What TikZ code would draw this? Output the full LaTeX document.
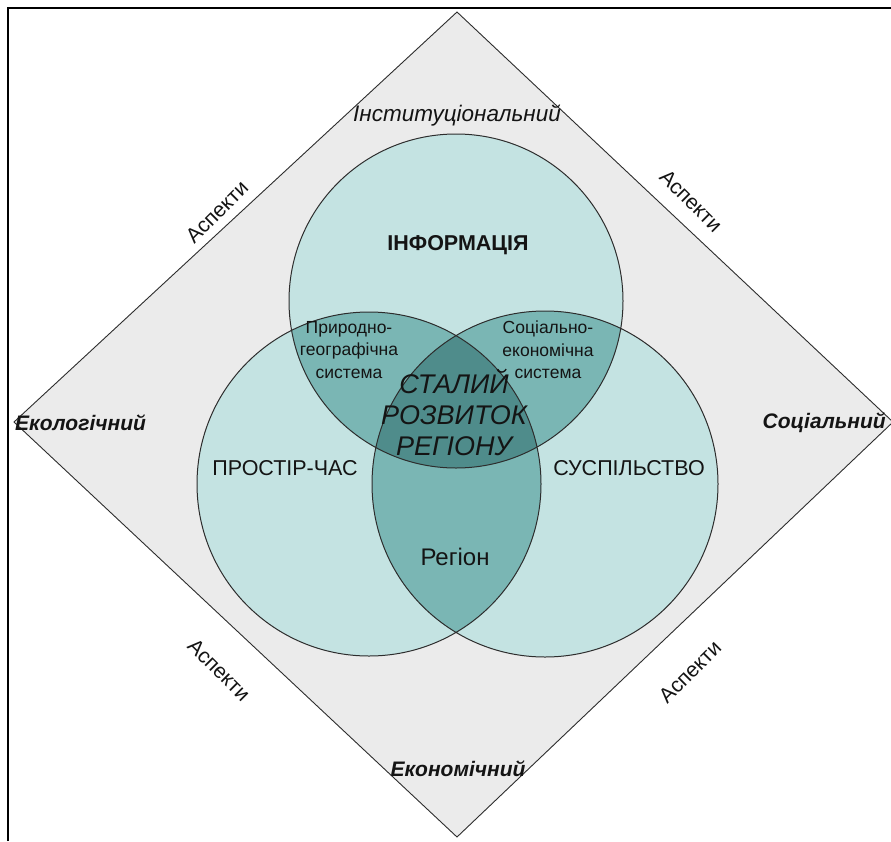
\documentclass[tikz,border=0pt]{standalone}
\usepackage{fontspec}
\setmainfont{Liberation Sans}
\definecolor{diamondfill}{RGB}{235,235,235}
\definecolor{cone}{RGB}{196,227,226}
\definecolor{ctwo}{RGB}{122,182,180}
\definecolor{cthree}{RGB}{79,140,139}
\definecolor{edgecol}{RGB}{45,45,45}
\definecolor{txt}{RGB}{20,20,20}
\begin{document}
\begin{tikzpicture}[x=1pt,y=-1pt,
  lab/.style={text=txt,inner sep=0pt,align=center},
  aspect/.style={lab,font=\fontsize{21}{21}\selectfont},
  side/.style={lab,font=\fontsize{21}{21}\selectfont\bfseries\itshape},
  inner/.style={lab,font=\fontsize{17.5}{22.5}\selectfont},
  big/.style={lab,font=\fontsize{21.5}{21.5}\selectfont}]
\useasboundingbox (0,0) rectangle (891,841);
\fill[white] (0,0) rectangle (891,841);
% frame
\draw[line width=2pt,black] (8,841) -- (8,8) -- (891,8);
% diamond
\coordinate (dt) at (457,12);
\coordinate (dl) at (14,422);
\coordinate (dr) at (893,422);
\coordinate (db) at (457,837);
\draw[fill=diamondfill,draw=edgecol,line width=0.9pt] (dt) -- (dr) -- (db) -- (dl) -- cycle;
% circle centres
\coordinate (ct) at (456,301);
\coordinate (cl) at (369,484);
\coordinate (cr) at (545,484);
\def\rt{167}\def\rl{172}\def\rr{173}
\fill[cone] (ct) circle (\rt) (cl) circle (\rl) (cr) circle (\rr);
\begin{scope}\clip (ct) circle (\rt); \fill[ctwo] (cl) circle (\rl) (cr) circle (\rr); \end{scope}
\begin{scope}\clip (cl) circle (\rl); \fill[ctwo] (cr) circle (\rr); \end{scope}
\begin{scope}\clip (ct) circle (\rt); \clip (cl) circle (\rl); \fill[cthree] (cr) circle (\rr); \end{scope}
\draw[edgecol,line width=1pt] (ct) circle (\rt) (cl) circle (\rl) (cr) circle (\rr);
% side labels
\node[lab,font=\fontsize{22.5}{22.5}\selectfont\itshape] (inst) at (457,116) {Інституціональний};
\node[side,anchor=west] (eco) at (15,423) {Екологічний};
\node[side,anchor=east] (soc) at (886,423) {Соціальний};
\node[side] (econ) at (458,769) {Економічний};
\node[aspect,rotate=45] (a1) at (217,212) {Аспекти};
\node[aspect,rotate=-45] (a2) at (691,201) {Аспекти};
\node[aspect,rotate=-45] (a3) at (219,670) {Аспекти};
\node[aspect,rotate=45] (a4) at (690,672) {Аспекти};
% inner labels
\node[lab,font=\fontsize{21.5}{21.5}\selectfont\bfseries] (info) at (458,245) {ІНФОРМАЦІЯ};
\node[inner] (pgs) at (349,350) {Природно-\\географічна\\система};
\node[inner] (ses) at (548,350) {Соціально-\\економічна\\система};
\node[lab,font=\fontsize{27}{31}\selectfont\itshape] (srr) at (454,412) {СТАЛИЙ\\РОЗВИТОК\\РЕГІОНУ};
\node[big] (pch) at (285,468) {ПРОСТІР-ЧАС};
\node[big] (susp) at (629,468) {СУСПІЛЬСТВО};
\node[lab,font=\fontsize{24}{24}\selectfont] (reg) at (455,557) {Регіон};
\end{tikzpicture}
\end{document}
